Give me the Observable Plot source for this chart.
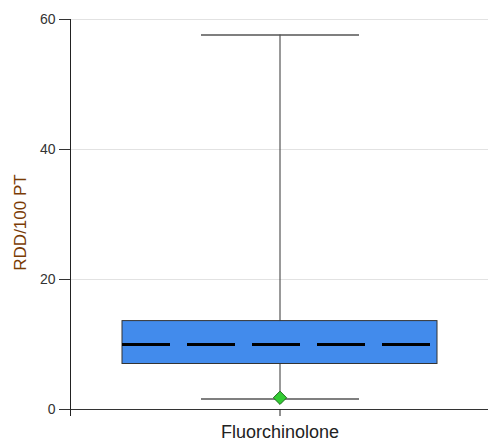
<!DOCTYPE html>
<html>
<head>
<meta charset="utf-8">
<script src="https://cdn.jsdelivr.net/npm/d3@7"></script>
<script src="https://cdn.jsdelivr.net/npm/@observablehq/plot@0.6"></script>
<style>
  html, body { margin: 0; padding: 0; background: #fff; }
  #chart { width: 488px; height: 441px; }
</style>
</head>
<body>
<div id="chart"></div>
<script>
const categories = ["Fluorchinolone"];
const whiskerLow = [1.6];
const q1 = [7.0];
const median = [10.0];
const q3 = [13.6];
const whiskerHigh = [57.6];
const marker = [1.8];
const yTicks = [0, 20, 40, 60];
const yLabel = "RDD/100 PT";

const data = categories.map((c, i) => ({
  cat: c, lo: whiskerLow[i], q1: q1[i], med: median[i], q3: q3[i], hi: whiskerHigh[i], mk: marker[i]
}));

const chart = Plot.plot({
  width: 488,
  height: 441,
  marginLeft: 70,
  marginRight: 0,
  marginTop: 19,
  marginBottom: 32,
  style: { fontFamily: "'Liberation Sans', Arial, sans-serif", background: "#fff", overflow: "visible" },
  x: { type: "band", domain: categories, padding: 0.14, label: null },
  y: { domain: [0, 60], label: null },
  marks: [
    Plot.gridY(yTicks, { stroke: "#e2e2e2", strokeOpacity: 1, strokeWidth: 1.2 }),
    Plot.ruleX(data, { x: "cat", y1: "lo", y2: "hi", stroke: "#555", strokeWidth: 1.2 }),
    Plot.tickY(data, { x: "cat", y: "lo", insetLeft: 79, insetRight: 78, stroke: "#555", strokeWidth: 1.5 }),
    Plot.tickY(data, { x: "cat", y: "hi", insetLeft: 79, insetRight: 78, stroke: "#555", strokeWidth: 1.5 }),
    Plot.barY(data, { x: "cat", y1: "q1", y2: "q3", fill: "#428bec", stroke: "#333", strokeWidth: 1 }),
    Plot.tickY(data, { x: "cat", y: "med", stroke: "#000", strokeWidth: 3, strokeDasharray: "48,17" }),
    Plot.dot(data, { x: "cat", y: "mk", symbol: "diamond2", r: 6, fill: "#33cc33", stroke: "#1d6b1d", strokeWidth: 1 }),
    Plot.ruleY([0], { stroke: "#333", strokeWidth: 1.2 }),
    Plot.frame({ anchor: "left", stroke: "#222", insetBottom: -6 }),
    Plot.axisY({ ticks: yTicks, tickSize: 11, tickPadding: 4, fontSize: 14, color: "#333", label: null, tickFormat: d => d }),
    Plot.axisX({ tickSize: 7, tickPadding: 9, fontSize: 18, color: "#222", label: null }),
    Plot.text([yLabel], { frameAnchor: "left", textAnchor: "middle", dx: -50, dy: 8, rotate: -90, fontSize: 17, fill: "#7a3c05" })
  ]
});
document.getElementById("chart").appendChild(chart);
</script>
</body>
</html>
